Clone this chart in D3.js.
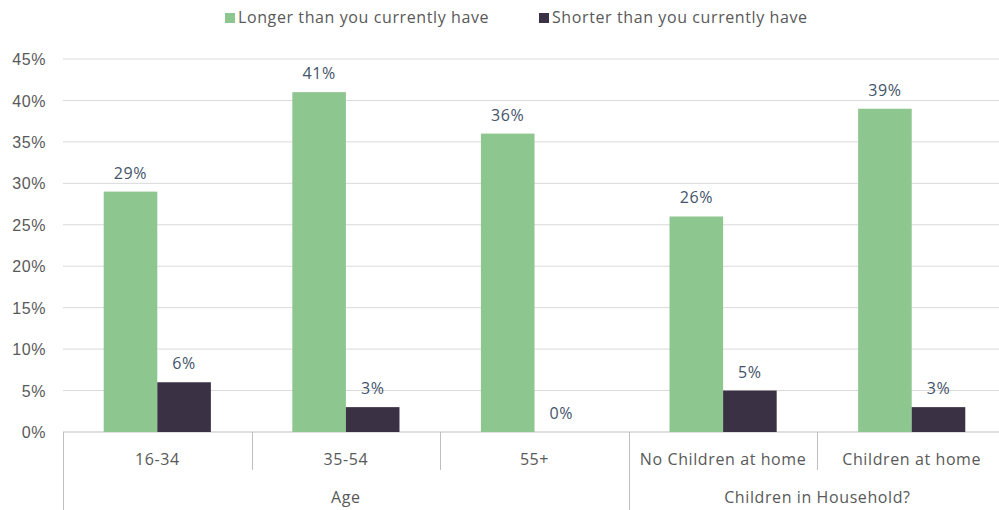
<!DOCTYPE html>
<html>
<head>
<meta charset="utf-8">
<script src="https://cdn.jsdelivr.net/npm/d3@7"></script>
<style>
  body { margin: 0; background: #fff; overflow: hidden; }
  svg { font-family: "Open Sans", "Noto Sans", sans-serif; }
  svg text { letter-spacing: 0.6px; }
</style>
</head>
<body>
<div id="chart"></div>
<script>
// chart data
const categories = ["16-34", "35-54", "55+", "No Children at home", "Children at home"];
const groups = [
  { name: "Age", from: 0, to: 2 },
  { name: "Children in Household?", from: 3, to: 4 }
];
const seriesNames = ["Longer than you currently have", "Shorter than you currently have"];
const longer = [29, 41, 36, 26, 39];
const shorter = [6, 3, 0, 5, 3];
const yTicks = [0, 5, 10, 15, 20, 25, 30, 35, 40, 45];

const width = 999, height = 510;
const colors = ["#8dc68e", "#3a3145"];
const fontSize = "16px";

const svg = d3.select("#chart").append("svg")
  .attr("width", width).attr("height", height);

const x = d3.scaleBand().domain(categories).range([63, 1006]);
const y = d3.scaleLinear().domain([0, 45]).range([432, 59]);
const sub = d3.scaleBand().domain([0, 1]).range([0, x.bandwidth()]).paddingOuter(0.76).paddingInner(0);

// gridlines
svg.append("g")
  .selectAll("line")
  .data(yTicks)
  .enter().append("line")
    .attr("x1", 63).attr("x2", width)
    .attr("y1", d => y(d)).attr("y2", d => y(d))
    .attr("stroke", d => d === 0 ? "#bfbfbf" : "#d9d9d9")
    .attr("stroke-width", 1);

// y axis labels
const yAxis = svg.append("g")
  .attr("transform", "translate(46,0)")
  .call(d3.axisLeft(y).tickValues(yTicks).tickFormat(d => d + "%").tickSize(0).tickPadding(0));
yAxis.select(".domain").remove();
yAxis.selectAll("text")
  .attr("fill", "#595959")
  .style("font-size", fontSize)
  .attr("dy", "0.35em");

// bars
const series = [longer, shorter];
series.forEach((vals, si) => {
  svg.append("g").selectAll("rect")
    .data(vals)
    .enter().append("rect")
      .attr("x", (d, i) => x(categories[i]) + sub(si))
      .attr("y", d => y(d))
      .attr("width", sub.bandwidth())
      .attr("height", d => y(0) - y(d))
      .attr("fill", colors[si]);

  svg.append("g").selectAll("text")
    .data(vals)
    .enter().append("text")
      .attr("x", (d, i) => x(categories[i]) + sub(si) + sub.bandwidth() / 2)
      .attr("y", d => y(d) - 13)
      .attr("text-anchor", "middle")
      .attr("fill", "#44546a")
      .style("font-size", fontSize)
      .text(d => d + "%");
});

// category axis: dividers and labels
const axisCol = "#bfbfbf";
const groupStarts = groups.map(g => g.from);
svg.append("g").selectAll("line")
  .data(categories)
  .enter().append("line")
    .attr("x1", d => Math.round(x(d)) + 0.5).attr("x2", d => Math.round(x(d)) + 0.5)
    .attr("y1", y(0))
    .attr("y2", (d, i) => groupStarts.includes(i) ? height : 470)
    .attr("stroke", axisCol);

svg.append("g").selectAll("text")
  .data(categories)
  .enter().append("text")
    .attr("x", d => x(d) + x.bandwidth() / 2)
    .attr("y", 465)
    .attr("text-anchor", "middle")
    .attr("fill", "#595959")
    .style("font-size", fontSize)
    .text(d => d);

svg.append("g").selectAll("text")
  .data(groups)
  .enter().append("text")
    .attr("x", g => (x(categories[g.from]) + x(categories[g.to]) + x.bandwidth()) / 2)
    .attr("y", 503)
    .attr("text-anchor", "middle")
    .attr("fill", "#595959")
    .style("font-size", fontSize)
    .text(g => g.name);

// legend
const legendX = [225, 539];
const legend = svg.append("g").selectAll("g")
  .data(seriesNames)
  .enter().append("g")
    .attr("transform", (d, i) => `translate(${legendX[i]},13)`);
legend.append("rect")
  .attr("width", 10).attr("height", 10)
  .attr("fill", (d, i) => colors[i]);
legend.append("text")
  .attr("x", 13).attr("y", 10)
  .attr("fill", "#595959")
  .style("font-size", fontSize)
  .text(d => d);
</script>
</body>
</html>
